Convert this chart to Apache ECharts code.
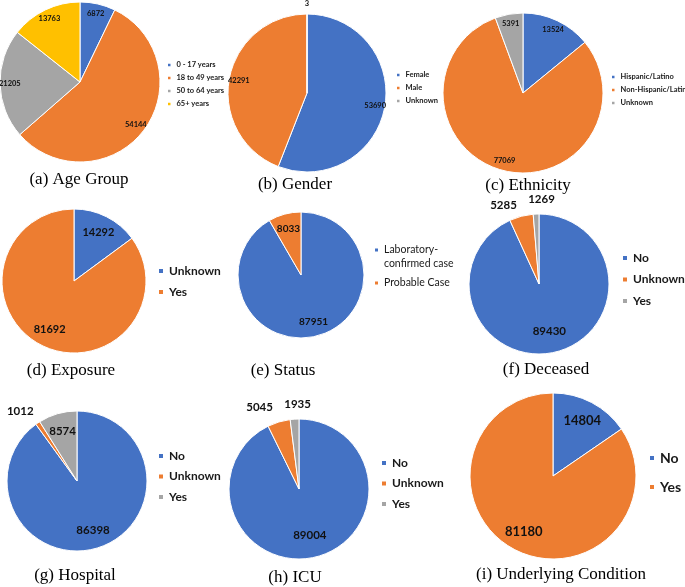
<!DOCTYPE html>
<html><head><meta charset="utf-8">
<script src="https://cdn.jsdelivr.net/npm/echarts@6/dist/echarts.min.js"></script>
<style>html,body{margin:0;padding:0;background:#fff}#c{width:685px;height:587px}</style>
</head><body><div id="c"></div>
<script>
const BLUE = '#4472C4', ORANGE = '#ED7D31', GRAY = '#A5A5A5', YELLOW = '#FFC000';

// ---- data ----
const ageCategories = ['0 - 17 years', '18 to 49 years', '50 to 64 years', '65+ years'];
const ageValues = [6872, 54144, 21205, 13763];
const genderCategories = ['Female', 'Male', 'Unknown'];
const genderValues = [53690, 42291, 3];
const ethnicityCategories = ['Hispanic/Latino', 'Non-Hispanic/Latino', 'Unknown'];
const ethnicityValues = [13524, 77069, 5391];
const exposureCategories = ['Unknown', 'Yes'];
const exposureValues = [14292, 81692];
const statusCategories = ['Laboratory-confirmed case', 'Probable Case'];
const statusValues = [87951, 8033];
const deceasedCategories = ['No', 'Unknown', 'Yes'];
const deceasedValues = [89430, 5285, 1269];
const hospitalCategories = ['No', 'Unknown', 'Yes'];
const hospitalValues = [86398, 1012, 8574];
const icuCategories = ['No', 'Unknown', 'Yes'];
const icuValues = [89004, 5045, 1935];
const underlyingCategories = ['No', 'Yes'];
const underlyingValues = [14804, 81180];
const panelTitles = ['(a) Age Group', '(b) Gender', '(c) Ethnicity', '(d) Exposure', '(e) Status',
  '(f) Deceased', '(g) Hospital', '(h) ICU', '(i) Underlying Condition'];

// legend icons for the two-line legend of (e): square at top / square centred
const ICON_TOP = 'path://M0,0L5,0L5,5L0,5Z M0,19L0,19';
const ICON_MID = 'path://M0,7L5,7L5,12L0,12Z M0,0L0,0 M0,19L0,19';

// ---- layout / style per panel ----
const panels = [
  {cats: ageCategories, vals: ageValues, colors: [BLUE, ORANGE, GRAY, YELLOW], cx: 80, cy: 82, r: 80, f: 0.84, out: [], outD: 0, lf: 7.5,
   legX: 166, legY: 65, legFS: 7.5, legLH: 9, legGap: 4, icon: 4.5, legW: 'bold', tx: 79, ty: 180},
  {cats: genderCategories, vals: genderValues, colors: [BLUE, ORANGE, GRAY], cx: 307, cy: 93, r: 79, f: 0.84, out: ['Unknown'], outD: 7, lf: 7.5,
   legX: 395, legY: 75, legFS: 7.5, legLH: 9, legGap: 4, icon: 4.5, legW: 'bold', tx: 295, ty: 185},
  {cats: ethnicityCategories, vals: ethnicityValues, colors: [BLUE, ORANGE, GRAY], cx: 523, cy: 93, r: 80, f: 0.84, out: [], outD: 0, lf: 7.5,
   legX: 610, legY: 77, legFS: 7.5, legLH: 9, legGap: 4, icon: 4.5, legW: 'bold', tx: 528, ty: 186},
  {cats: exposureCategories, vals: exposureValues, colors: [BLUE, ORANGE], cx: 74, cy: 281, r: 72, f: 0.71, out: [], outD: 0, lf: 11,
   legX: 157, legY: 271, legFS: 12, legLH: 14, legGap: 7, icon: 6, legW: 'bold', tx: 71, ty: 371},
  {cats: statusCategories, vals: statusValues, colors: [BLUE, ORANGE], cx: 301, cy: 275, r: 63, f: 0.72, out: [], outD: 0, lf: 10,
   legX: 373, legY: 250, legFS: 10.5, legLH: 14, legGap: 1.5, icon: 5, iconH: 19, icons: [ICON_TOP, ICON_MID],
   legW: 'normal', tx: 283, ty: 371, legFmt: n => n.replace('-', '-\n')},
  {cats: deceasedCategories, vals: deceasedValues, colors: [BLUE, ORANGE, GRAY], cx: 539, cy: 284, r: 70, f: 0.65, out: ['Unknown', 'Yes'], outD: 12, lf: 11.5,
   outShift: {Unknown: [-14, 4], Yes: [6, 0]},
   legX: 621, legY: 258, legFS: 12, legLH: 14, legGap: 7.5, icon: 6, legW: 'bold', tx: 546, ty: 370},
  {cats: hospitalCategories, vals: hospitalValues, colors: [BLUE, ORANGE, GRAY], cx: 77, cy: 481, r: 70, f: 0.7, out: ['Unknown'], outD: 14, lf: 11.5,
   outShift: {Unknown: [-8, 2]},
   legX: 157, legY: 456, legFS: 12, legLH: 14, legGap: 6.5, icon: 6, legW: 'bold', tx: 75, ty: 576},
  {cats: icuCategories, vals: icuValues, colors: [BLUE, ORANGE, GRAY], cx: 299, cy: 489, r: 70, f: 0.64, out: ['Unknown', 'Yes'], outD: 12, lf: 11.5,
   outShift: {Unknown: [-15, 0], Yes: [4, 0]},
   legX: 380, legY: 463, legFS: 12, legLH: 14, legGap: 6.5, icon: 6, legW: 'bold', tx: 295, ty: 578},
  {cats: underlyingCategories, vals: underlyingValues, colors: [BLUE, ORANGE], cx: 553, cy: 476, r: 83, f: 0.72, out: [], outD: 0, lf: 13,
   legX: 648, legY: 458, legFS: 14, legLH: 16, legGap: 13, icon: 6, legW: 'bold', tx: 561, ty: 575}
];

const series = [], legends = [], graphics = [];
panels.forEach((p, i) => {
  const base = {type: 'pie', center: [p.cx, p.cy], startAngle: 90, clockwise: true, silent: true, animation: false,
    emphasis: {disabled: true}, labelLine: {show: false}, avoidLabelOverlap: false, labelLayout: {hideOverlap: false}};
  series.push(Object.assign({}, base, {
    radius: [0, p.r], label: {show: false},
    itemStyle: {borderColor: '#fff', borderWidth: 1},
    data: p.cats.map((n, k) => ({name: n, value: p.vals[k], itemStyle: {color: p.colors[k]}}))
  }));
  const lbl = {show: true, position: 'inside', formatter: '{c}', fontFamily: 'Lato', fontWeight: 'bold',
    fontSize: p.lf, color: '#111'};
  series.push(Object.assign({}, base, {
    radius: [(2 * p.f - 1) * p.r, p.r], z: 3,
    itemStyle: {color: 'rgba(0,0,0,0)', borderWidth: 0},
    label: lbl,
    data: p.cats.map((n, k) => ({name: n, value: p.vals[k], label: {show: !p.out.includes(n)}}))
  }));
  if (p.out.length) {
    const sh = p.outShift || {};
    series.push(Object.assign({}, base, {
      radius: [p.r, p.r + 2 * p.outD], z: 3,
      itemStyle: {color: 'rgba(0,0,0,0)', borderWidth: 0},
      label: lbl,
      data: p.cats.map((n, k) => ({name: n, value: p.vals[k],
        label: Object.assign({show: p.out.includes(n)}, sh[n] ? {offset: sh[n]} : {})}))
    }));
  }
  legends.push({
    orient: 'vertical', left: p.legX, top: p.legY - p.legLH / 2, padding: 0,
    itemWidth: p.icon, itemHeight: p.iconH || p.icon, itemGap: p.legGap, icon: 'rect', selectedMode: false,
    formatter: p.legFmt,
    textStyle: {fontFamily: 'Lato', fontWeight: p.legW, fontSize: p.legFS, lineHeight: p.legLH, color: '#1a1a1a'},
    data: p.cats.map((n, k) => Object.assign({name: n, itemStyle: {color: p.colors[k]}},
      p.icons ? {icon: p.icons[k]} : {}))
  });
  graphics.push({type: 'text', x: p.tx, y: p.ty, silent: true,
    style: {text: panelTitles[i], font: '17px "Liberation Serif"', fill: '#000', align: 'center', verticalAlign: 'middle'}});
});

const chart = echarts.init(document.getElementById('c'), null, {renderer: 'canvas'});
chart.setOption({animation: false, backgroundColor: '#fff', legend: legends, series: series, graphic: graphics});
</script>
</body></html>
